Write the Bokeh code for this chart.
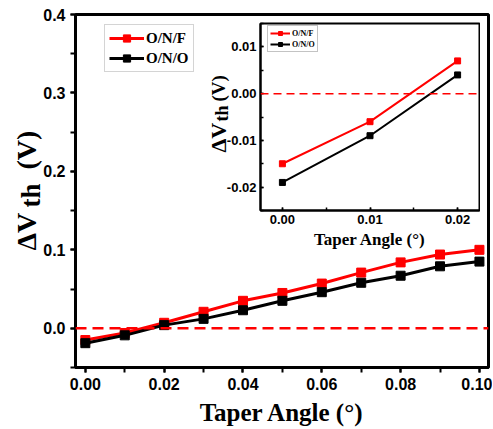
import math
from bokeh.plotting import figure
from bokeh.models import (Range1d, SingleIntervalTicker, NumeralTickFormatter,
                          Span, Legend, LegendItem)
from bokeh.core.properties import value
from bokeh.embed import file_html
from bokeh.resources import INLINE

# ---------------- data ----------------
angles = [0.00, 0.01, 0.02, 0.03, 0.04, 0.05, 0.06, 0.07, 0.08, 0.09, 0.10]
onf = [-0.015, -0.006, 0.007, 0.021, 0.035, 0.045, 0.057, 0.071, 0.084, 0.094, 0.100]
ono = [-0.019, -0.009, 0.004, 0.012, 0.023, 0.035, 0.046, 0.058, 0.067, 0.079, 0.085]
inset_angles = [0.00, 0.01, 0.02]
inset_onf = [-0.015, -0.006, 0.007]
inset_ono = [-0.019, -0.009, 0.004]
series_names = ["O/N/F", "O/N/O"]
x_title = "Taper Angle (°)"
y_title_parts = ["ΔV", "th", "(V)"]

RED = "#ff0000"
BLACK = "#000000"
SANS = "Liberation Sans"
SERIF = "Liberation Serif"

# ---------------- main figure ----------------
XS, XE = -0.0025, 0.1023
YS, YE = -0.05, 0.40
W, H = 492, 428
ML, MR, MT, MB = 75, 4, 14, 61

p = figure(width=W, height=H, x_range=Range1d(XS, XE), y_range=Range1d(YS, YE),
           output_backend="svg", toolbar_location=None,
           min_border_left=ML, min_border_right=MR, min_border_top=MT, min_border_bottom=MB)
p.grid.visible = False
p.outline_line_color = "black"
p.outline_line_width = 3
p.background_fill_color = "white"

p.xaxis.ticker = SingleIntervalTicker(interval=0.02, num_minor_ticks=2)
p.xaxis.formatter = NumeralTickFormatter(format="0.00")
p.yaxis.ticker = SingleIntervalTicker(interval=0.1, num_minor_ticks=2)
p.yaxis.formatter = NumeralTickFormatter(format="0.0")
for ax in (p.xaxis[0], p.yaxis[0]):
    ax.axis_line_width = 3
    ax.major_tick_line_width = 2
    ax.minor_tick_line_width = 2
    ax.major_tick_in = 0
    ax.major_tick_out = 5
    ax.minor_tick_in = 0
    ax.minor_tick_out = 5
    ax.major_label_text_font = SANS
    ax.major_label_text_font_style = "bold"
    ax.major_label_text_font_size = "16px"
    ax.major_label_text_color = "black"
p.xaxis.major_label_standoff = 5
p.yaxis.major_label_standoff = 5

p.xaxis.axis_label = x_title
p.xaxis.axis_label_text_font = SERIF
p.xaxis.axis_label_text_font_style = "bold"
p.xaxis.axis_label_text_font_size = "25px"
p.xaxis.axis_label_text_color = "black"
p.xaxis.axis_label_standoff = 6

p.add_layout(Span(location=0, dimension="width", line_color=RED, line_width=2.5, line_dash="11 6"))

l1 = p.line(angles, onf, line_color=RED, line_width=3)
m1 = p.scatter(angles, onf, marker="square", size=9, fill_color=RED, line_color=RED)
l2 = p.line(angles, ono, line_color=BLACK, line_width=3)
m2 = p.scatter(angles, ono, marker="square", size=9, fill_color=BLACK, line_color=BLACK)

leg = Legend(items=[LegendItem(label=series_names[0], renderers=[l1, m1]),
                    LegendItem(label=series_names[1], renderers=[l2, m2])],
             location=(29, 295))
leg.label_text_font = SERIF
leg.label_text_font_style = "bold"
leg.label_text_font_size = "15px"
leg.label_text_color = "black"
leg.glyph_width = 35
leg.glyph_height = 18
leg.label_height = 18
leg.label_standoff = 2
leg.spacing = 2
leg.padding = 4
leg.margin = 0
leg.border_line_color = "#aaaaaa"
leg.border_line_width = 1
leg.background_fill_color = "white"
p.add_layout(leg)

# ---------------- inset figure ----------------
IXS, IXE = -0.0025, 0.0225
IYS, IYE = -0.025, 0.015
IW, IH = 275, 235
IML, IMR, IMT, IMB = 55, 1, 3, 45
ILEFT, ITOP = 205, 20

ins = figure(width=IW, height=IH, x_range=Range1d(IXS, IXE), y_range=Range1d(IYS, IYE),
             output_backend="svg", toolbar_location=None,
             min_border_left=IML, min_border_right=IMR, min_border_top=IMT, min_border_bottom=IMB)
ins.styles = {"position": "absolute", "left": f"{ILEFT}px", "top": f"{ITOP}px", "z-index": "10"}
ins.border_fill_color = None
ins.background_fill_color = "white"
ins.grid.visible = False
ins.outline_line_color = "black"
ins.outline_line_width = 2

ins.xaxis.ticker = SingleIntervalTicker(interval=0.01, num_minor_ticks=2)
ins.xaxis.formatter = NumeralTickFormatter(format="0.00")
ins.yaxis.ticker = SingleIntervalTicker(interval=0.01, num_minor_ticks=2)
ins.yaxis.formatter = NumeralTickFormatter(format="0.00")
for ax in (ins.xaxis[0], ins.yaxis[0]):
    ax.axis_line_width = 2
    ax.major_tick_line_width = 1.5
    ax.minor_tick_line_width = 1.5
    ax.major_tick_in = 3
    ax.major_tick_out = 0
    ax.minor_tick_in = 3
    ax.minor_tick_out = 0
    ax.major_label_text_font = SANS
    ax.major_label_text_font_style = "bold"
    ax.major_label_text_font_size = "13px"
    ax.major_label_text_color = "black"
ins.xaxis.major_label_standoff = 4
ins.yaxis.major_label_standoff = 4
ins.xaxis.axis_label = x_title
ins.xaxis.axis_label_text_font = SERIF
ins.xaxis.axis_label_text_font_style = "bold"
ins.xaxis.axis_label_text_font_size = "17px"
ins.xaxis.axis_label_text_color = "black"
ins.xaxis.axis_label_standoff = 3

ins.add_layout(Span(location=0, dimension="width", line_color=RED, line_width=1.5, line_dash="8 5"))

il1 = ins.line(inset_angles, inset_onf, line_color=RED, line_width=2)
im1 = ins.scatter(inset_angles, inset_onf, marker="square", size=6, fill_color=RED, line_color=RED)
il2 = ins.line(inset_angles, inset_ono, line_color=BLACK, line_width=2)
im2 = ins.scatter(inset_angles, inset_ono, marker="square", size=6, fill_color=BLACK, line_color=BLACK)

ileg = Legend(items=[LegendItem(label=series_names[0], renderers=[il1, im1]),
                     LegendItem(label=series_names[1], renderers=[il2, im2])],
              location=(7, 158))
ileg.label_text_font = SERIF
ileg.label_text_font_style = "bold"
ileg.label_text_font_size = "8px"
ileg.label_text_color = "black"
ileg.glyph_width = 20
ileg.glyph_height = 10
ileg.label_height = 10
ileg.label_standoff = 2
ileg.spacing = 1
ileg.padding = 2
ileg.margin = 0
ileg.border_line_color = "#888888"
ileg.border_line_width = 1
ileg.background_fill_color = "white"
ins.add_layout(ileg)

# ---------------- overlay for rotated y titles (pixel coordinates) ----------------
ov = figure(width=W, height=H, x_range=Range1d(0, W), y_range=Range1d(H, 0),
            output_backend="svg", toolbar_location=None,
            x_axis_location=None, y_axis_location=None,
            min_border_left=0, min_border_right=0, min_border_top=0, min_border_bottom=0)
ov.styles = {"position": "absolute", "left": "0px", "top": "0px", "z-index": "20",
             "pointer-events": "none"}
ov.border_fill_color = None
ov.background_fill_color = None
ov.outline_line_color = None
ov.grid.visible = False

# (text, anchor x, start y, font size) in page pixels
title_runs = [
    (y_title_parts[0], 26, 250, "28px"),
    (y_title_parts[1], 30, 207, "27px"),
    (y_title_parts[2], 26, 169, "28px"),
    (y_title_parts[0], 218, 152, "22px"),
    (y_title_parts[1], 221, 121, "18px"),
    (y_title_parts[2], 218, 101, "19px"),
]
for txt, bx, by, fs in title_runs:
    ov.text(x=[bx], y=[by], text=[txt], angle=math.pi / 2,
            text_align="left", text_baseline="alphabetic",
            text_font=value(SERIF), text_font_style="bold",
            text_font_size=value(fs), text_color="black")

open("out.html", "w").write(file_html([p, ins, ov], INLINE))
